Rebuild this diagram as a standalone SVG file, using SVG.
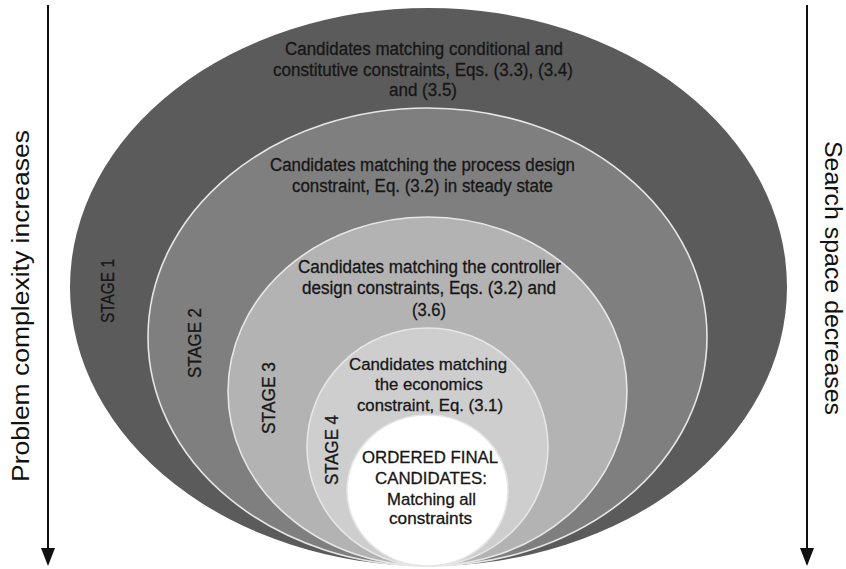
<svg xmlns="http://www.w3.org/2000/svg" width="846" height="569" viewBox="0 0 846 569">
<style>
.lbl{font-family:"Liberation Sans",Arial,sans-serif;font-size:18px;fill:#161616;stroke:#161616;stroke-width:0.3;text-anchor:middle}
.sm{font-size:17px}
.stg{font-family:"Liberation Sans",Arial,sans-serif;font-size:18px;fill:#161616;stroke:#161616;stroke-width:0.3;text-anchor:middle}
.side{font-family:"Liberation Sans",Arial,sans-serif;font-size:23px;fill:#111;text-anchor:middle}
.ring{stroke:#e6e6e6;stroke-width:1.6}
.arr{stroke:#111;stroke-width:2;fill:none}
</style>
<defs>
<marker id="ah" viewBox="0 0 18 14" refX="16" refY="7" markerWidth="18" markerHeight="14" markerUnits="userSpaceOnUse" orient="auto">
<path d="M0,0 L18,7 L0,14 Z" fill="#111"/>
</marker>
</defs>
<rect width="846" height="569" fill="#fff"/>
<g id="stage1">
<ellipse cx="428.5" cy="287" rx="358.5" ry="279" fill="#5b5b5b"/>
<text class="lbl" x="424" y="55" textLength="278" lengthAdjust="spacingAndGlyphs">Candidates matching conditional and</text>
<text class="lbl" x="423" y="76" textLength="300" lengthAdjust="spacingAndGlyphs">constitutive constraints, Eqs. (3.3), (3.4)</text>
<text class="lbl" x="423" y="96" textLength="68" lengthAdjust="spacingAndGlyphs">and (3.5)</text>
<text class="stg" transform="translate(114,291) rotate(-90)" textLength="64" lengthAdjust="spacingAndGlyphs">STAGE 1</text>
</g>
<g id="stage2">
<ellipse class="ring" cx="427.5" cy="337" rx="279.5" ry="229" fill="#7f7f7f"/>
<text class="lbl" x="422.5" y="171" textLength="305" lengthAdjust="spacingAndGlyphs">Candidates matching the process design</text>
<text class="lbl" x="422.5" y="192" textLength="261" lengthAdjust="spacingAndGlyphs">constraint, Eq. (3.2) in steady state</text>
<text class="stg" transform="translate(201,343) rotate(-90)" textLength="70" lengthAdjust="spacingAndGlyphs">STAGE 2</text>
</g>
<g id="stage3">
<ellipse class="ring" cx="427.5" cy="391.5" rx="199.5" ry="174.5" fill="#b3b3b3"/>
<text class="lbl" x="429.5" y="273" textLength="263" lengthAdjust="spacingAndGlyphs">Candidates matching the controller</text>
<text class="lbl" x="429" y="294" textLength="254" lengthAdjust="spacingAndGlyphs">design constraints, Eqs. (3.2) and</text>
<text class="lbl" x="429" y="316" textLength="34" lengthAdjust="spacingAndGlyphs">(3.6)</text>
<text class="stg" transform="translate(275,398) rotate(-90)" textLength="72" lengthAdjust="spacingAndGlyphs">STAGE 3</text>
</g>
<g id="stage4">
<ellipse class="ring" cx="427.5" cy="447" rx="120.5" ry="119" fill="#cecece"/>
<text class="lbl sm" x="428" y="370" textLength="158" lengthAdjust="spacingAndGlyphs">Candidates matching</text>
<text class="lbl sm" x="429" y="390" textLength="108" lengthAdjust="spacingAndGlyphs">the economics</text>
<text class="lbl sm" x="430" y="411" textLength="146" lengthAdjust="spacingAndGlyphs">constraint, Eq. (3.1)</text>
<text class="stg" transform="translate(338,450) rotate(-90)" textLength="70" lengthAdjust="spacingAndGlyphs">STAGE 4</text>
</g>
<g id="final">
<ellipse class="ring" cx="427.5" cy="490.5" rx="80.5" ry="75.5" fill="#ffffff"/>
<text class="lbl sm" x="430" y="463" textLength="136" lengthAdjust="spacingAndGlyphs">ORDERED FINAL</text>
<text class="lbl sm" x="431" y="484" textLength="112" lengthAdjust="spacingAndGlyphs">CANDIDATES:</text>
<text class="lbl sm" x="431.5" y="505" textLength="89" lengthAdjust="spacingAndGlyphs">Matching all</text>
<text class="lbl sm" x="430.5" y="524" textLength="83" lengthAdjust="spacingAndGlyphs">constraints</text>
</g>
<g id="connectors">
<line class="arr" x1="48" y1="5" x2="48" y2="564" marker-end="url(#ah)"/>
<line class="arr" x1="807" y1="5" x2="807" y2="564" marker-end="url(#ah)"/>
</g>
<g id="axis-left">
<text class="side" transform="translate(29,306) rotate(-90)" textLength="352" lengthAdjust="spacingAndGlyphs">Problem complexity increases</text>
</g>
<g id="axis-right">
<text class="side" transform="translate(825,278) rotate(90)" textLength="274" lengthAdjust="spacingAndGlyphs">Search space decreases</text>
</g>
</svg>
